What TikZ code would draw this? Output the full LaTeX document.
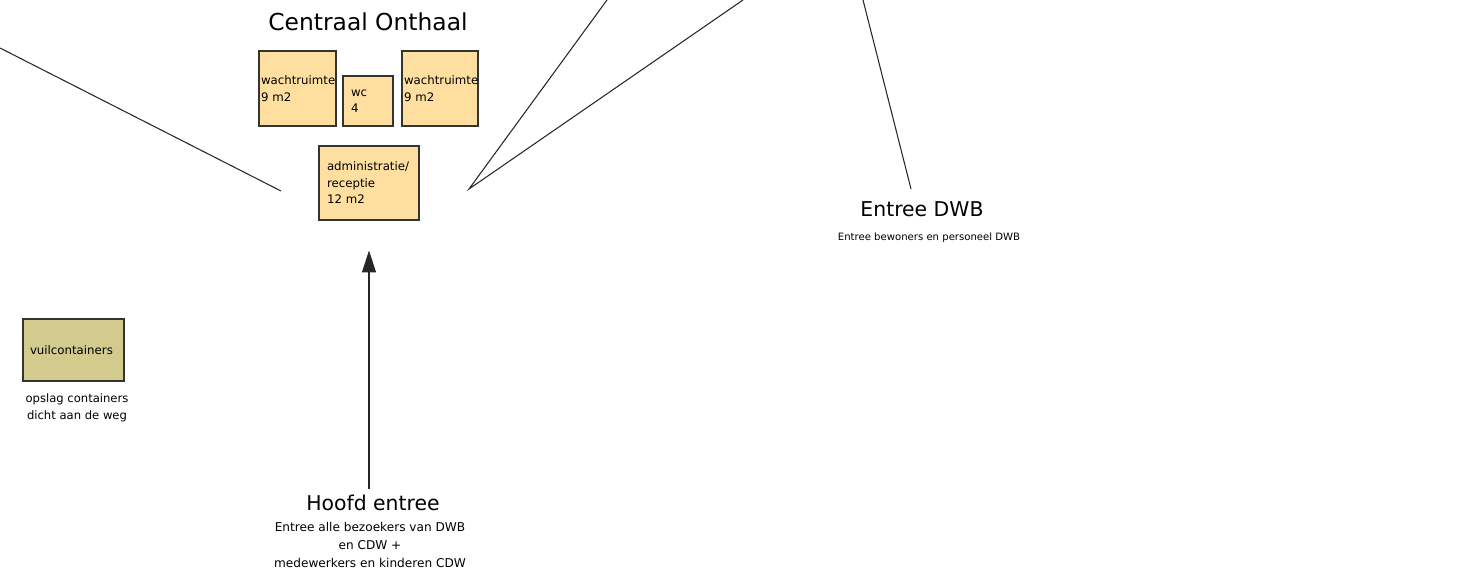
\documentclass[tikz,border=0pt]{standalone}
\usepackage{fontspec}
\setmainfont{DejaVu Sans}
\usetikzlibrary{arrows.meta}
\definecolor{roomfill}{RGB}{255,223,160}
\definecolor{binfill}{RGB}{211,202,142}

\begin{document}
\begin{tikzpicture}[x=0.02cm,y=-0.02cm,
        room/.style={draw=black!80,line width=0.6pt,fill=roomfill,align=left,
            inner ysep=0pt,font=\fontsize{6.7}{9.4}\selectfont},
        heading/.style={font=\fontsize{11.6}{14}\selectfont},
        note/.style={align=center,font=\fontsize{6.9}{10}\selectfont},
        link/.style={line width=0.6pt,black!85},
        entry/.style={link,-{Triangle[length=12.5pt,width=8pt]}}
    ]
    \useasboundingbox (0,0) rectangle (1462,574);

    % centraal onthaal
    \node[font=\fontsize{13.3}{16}\selectfont] (onthaal) at (368,22) {Centraal Onthaal};
    \node[room,minimum height=1.5cm,text width=1.46cm,inner xsep=0.04cm] (wacht1) at (297.5,88.5) {wachtruimte\\9 m2};
    \node[room,minimum height=1cm,text width=0.68cm,inner xsep=0.16cm] (wc) at (368,101) {wc\\4};
    \node[room,minimum height=1.5cm,text width=1.44cm,inner xsep=0.04cm] (wacht2) at (440,88.5) {wachtruimte\\9 m2};
    \node[room,minimum height=1.48cm,text width=1.68cm,inner xsep=0.16cm] (admin) at (369,183) {administratie/\\receptie\\12 m2};

    % containers
    \node[room,fill=binfill,minimum height=1.24cm,text width=1.74cm,inner xsep=0.14cm] (vuil) at (73.5,350) {vuilcontainers};
    \node[note,font=\fontsize{6.6}{9.6}\selectfont] (opslag) at (77,407.5) {opslag containers\\dicht aan de weg};

    % entrees
    \node[heading] (hoofd) at (373,503) {Hoofd entree};
    \node[note] (hoofdnote) at (370,545) {Entree alle bezoekers van DWB\\en CDW +\\ medewerkers en kinderen CDW};
    \node[heading] (dwb) at (922,209) {Entree DWB};
    \node[font=\fontsize{5.75}{7}\selectfont] (dwbnote) at (929,238) {Entree bewoners en personeel DWB};

    \coordinate (westend) at (0,48);
    \coordinate (westtip) at (281,191);
    \coordinate (northtip) at (469,189);
    \coordinate (north1) at (607,0);
    \coordinate (north2) at (743,0);
    \coordinate (dwbtop) at (863,0);
    \coordinate (dwbfoot) at (911,189);

    \draw[link] (westend) -- (westtip);
    \draw[link] (north1) -- (northtip) -- (north2);
    \draw[link] (dwbtop) -- (dwbfoot);
    \draw[entry] (hoofd.north -| admin.south) -- ([yshift=-0.6cm]admin.south);
\end{tikzpicture}
\end{document}
